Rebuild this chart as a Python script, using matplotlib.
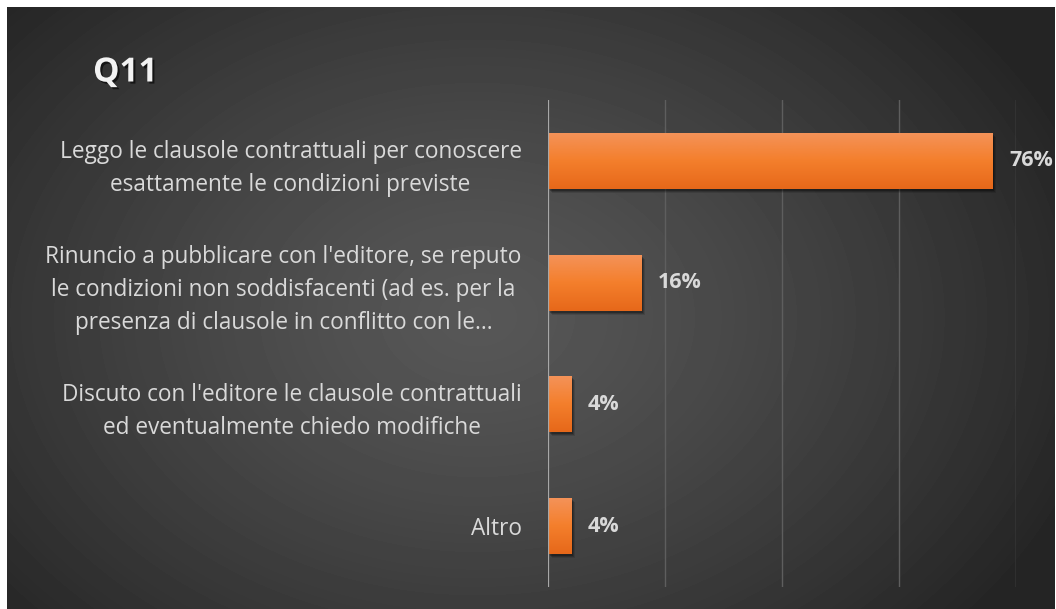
import numpy as np
import matplotlib
matplotlib.use("Agg")
import matplotlib.pyplot as plt
import matplotlib.patheffects as pe
from matplotlib import transforms

plt.rcParams['font.family'] = ['Open Sans', 'DejaVu Sans']

# dati
categorie = [
    "Leggo le clausole contrattuali per conoscere\nesattamente le condizioni previste",
    "Rinuncio a pubblicare con l'editore, se reputo\nle condizioni non soddisfacenti (ad es. per la\npresenza di clausole in conflitto con le...",
    "Discuto con l'editore le clausole contrattuali\ned eventualmente chiedo modifiche",
    "Altro",
]
valori = [76, 16, 4, 4]
etichette = ["76%", "16%", "4%", "4%"]
titolo = "Q11"

W, H = 1056, 609
fig = plt.figure(figsize=(W / 100, H / 100), dpi=100)
fig.patch.set_facecolor("white")

# sfondo con gradiente radiale
bg = fig.add_axes([7 / W, 0, (1055 - 7) / W, (H - 7) / H])
bg.set_axis_off()
yy, xx = np.mgrid[0:602, 0:1048]
cx, cy = 470, 310
d = np.sqrt(((xx - cx) / 640.0) ** 2 + ((yy - cy) / 470.0) ** 2)
d = np.clip(d, 0, 1)
shade = 0x57 / 255 - (0x57 - 0x25) / 255 * d ** 1.3
bg.imshow(shade, cmap="gray", vmin=0, vmax=1, aspect="auto", interpolation="bilinear")

# area del grafico
x0, x1 = 548, 1016
ytop, ybot = 100, 587
ax = fig.add_axes([x0 / W, (H - ybot) / H, (x1 - x0) / W, (ybot - ytop) / H])
ax.set_facecolor("none")
ax.set_xlim(0, 80)
pos = np.arange(len(categorie))
ax.set_ylim(len(categorie) - 0.5, -0.5)

for g in [20, 40, 60, 80]:
    ax.axvline(g, color="#5e5e5e", lw=1, zorder=1)
ax.axvline(0, color="#a8a8a8", lw=1.6, zorder=5)

h = 0.46
# ombra
for dx, dy, a in [(3.5, -4, 0.12), (2.5, -3, 0.18), (1.5, -2, 0.25)]:
    shadow_tr = transforms.offset_copy(ax.transData, fig=fig, x=dx, y=dy, units="dots")
    ax.barh(pos, valori, height=h, color="black", alpha=a, transform=shadow_tr, zorder=2)
bars = ax.barh(pos, valori, height=h, color="#f07a2c", zorder=3)

grad = np.linspace(0, 1, 100).reshape(-1, 1)
cmap = matplotlib.colors.LinearSegmentedColormap.from_list("arancio", ["#f4935a", "#f47f2c", "#e6681a"])
for b in bars:
    x, y = b.get_x(), b.get_y()
    w, hh = b.get_width(), b.get_height()
    im = ax.imshow(grad, cmap=cmap, aspect="auto", extent=[x, x + w, y + hh, y], zorder=4)
    im.set_clip_path(b)

for p, v, t in zip(pos, valori, etichette):
    ax.annotate(t, xy=(v, p), xytext=(12, 0), textcoords="offset points",
                ha="left", va="center", fontsize=15.5, fontweight="bold",
                color="#d9d9d9", annotation_clip=False)

ax.set_yticks(pos)
ax.set_yticklabels(categorie)
ax.tick_params(axis="y", length=0, pad=19, labelsize=16.3, labelcolor="#d9d9d9")
for t in ax.get_yticklabels():
    t.set_multialignment("center")
    t.set_linespacing(1.48)
ax.set_xticks([])
for s in ax.spines.values():
    s.set_visible(False)

fig.text(93 / W, (H - 73) / H, titolo, ha="left", va="center", fontsize=24,
         fontweight="bold", color="#f2f2f2",
         path_effects=[pe.withSimplePatchShadow(offset=(1.5, -1.5), shadow_rgbFace="black", alpha=0.6)])

fig.savefig("out.png", dpi=100, facecolor=fig.get_facecolor())
